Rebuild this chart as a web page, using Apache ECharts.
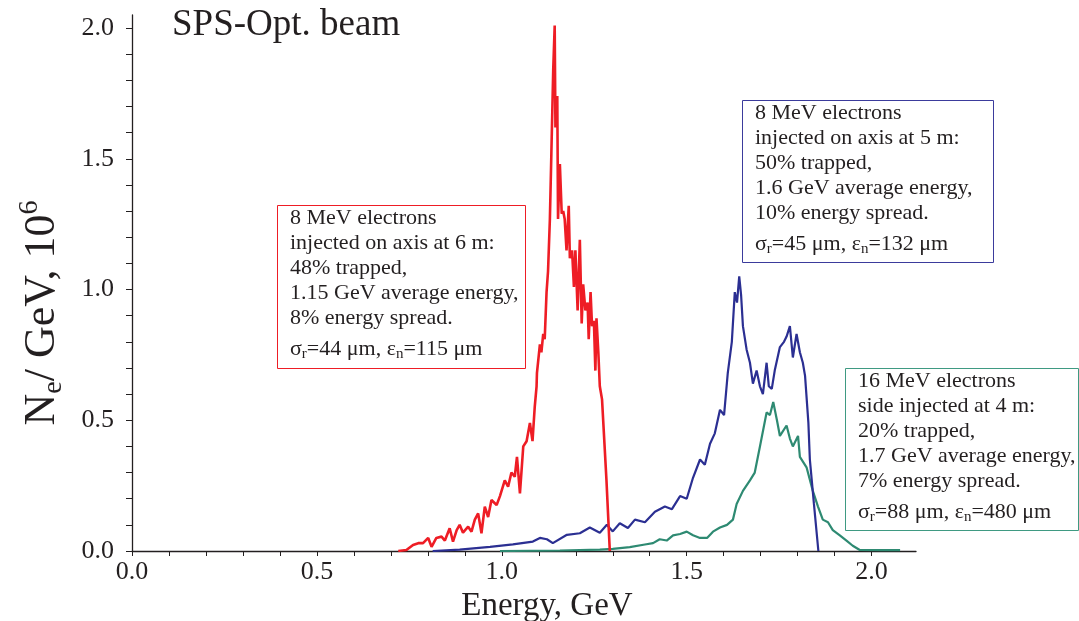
<!DOCTYPE html>
<html>
<head>
<meta charset="utf-8">
<script src="https://cdn.jsdelivr.net/npm/echarts@6/dist/echarts.min.js"></script>
<style>html,body{margin:0;padding:0;background:#fff}#c{width:1079px;height:621px}</style>
</head>
<body>
<div id="c"></div>
<script>
// ---- data (energy in GeV, Ne/GeV in 10^6) ----
const redE = [0.720,0.742,0.760,0.774,0.787,0.801,0.810,0.823,0.837,0.846,0.859,0.868,0.878,0.886,0.895,0.909,0.918,0.927,0.936,0.945,0.954,0.963,0.972,0.986,0.995,1.008,1.017,1.026,1.035,1.041,1.049,1.058,1.067,1.076,1.083,1.089,1.094,1.095,1.103,1.107,1.112,1.116,1.121,1.125,1.130,1.134,1.139,1.143,1.145,1.150,1.152,1.157,1.162,1.166,1.170,1.175,1.181,1.184,1.190,1.195,1.199,1.205,1.211,1.216,1.220,1.226,1.232,1.235,1.240,1.244,1.249,1.253,1.256,1.261,1.265,1.271,1.283,1.292];
const redN = [0,0.004,0.023,0.03,0.03,0.05,0.016,0.05,0.055,0.04,0.087,0.036,0.08,0.10,0.07,0.093,0.074,0.12,0.144,0.068,0.17,0.13,0.195,0.176,0.21,0.27,0.246,0.30,0.284,0.36,0.22,0.40,0.42,0.49,0.42,0.55,0.63,0.68,0.79,0.76,0.83,0.81,0.99,1.07,1.27,1.52,1.84,2.01,1.62,1.74,1.27,1.48,1.29,1.30,1.27,1.15,1.32,1.12,1.15,1.01,1.15,0.92,1.19,0.87,1.02,0.92,0.95,0.81,0.99,0.86,0.88,0.69,0.89,0.76,0.63,0.58,0.27,0];

const blueE = [0.813,0.886,0.968,1.030,1.084,1.103,1.122,1.138,1.176,1.211,1.238,1.265,1.284,1.300,1.319,1.341,1.360,1.387,1.414,1.441,1.460,1.482,1.500,1.517,1.536,1.549,1.563,1.576,1.590,1.601,1.611,1.622,1.630,1.636,1.642,1.647,1.652,1.662,1.671,1.679,1.689,1.698,1.706,1.716,1.722,1.730,1.738,1.752,1.763,1.770,1.779,1.787,1.797,1.806,1.814,1.820,1.829,1.833,1.844,1.856];
const blueN = [0,0.005,0.016,0.025,0.036,0.05,0.045,0.03,0.062,0.068,0.09,0.07,0.10,0.075,0.106,0.088,0.12,0.11,0.15,0.17,0.16,0.21,0.2,0.28,0.35,0.33,0.41,0.45,0.54,0.52,0.68,0.80,0.99,0.95,1.05,0.98,0.86,0.77,0.72,0.64,0.69,0.63,0.60,0.72,0.63,0.62,0.69,0.78,0.80,0.82,0.86,0.74,0.83,0.76,0.72,0.67,0.49,0.35,0.18,0];

const greenE = [0.995,1.157,1.265,1.300,1.346,1.387,1.409,1.427,1.446,1.463,1.482,1.500,1.517,1.536,1.555,1.571,1.590,1.609,1.625,1.635,1.652,1.671,1.684,1.698,1.716,1.725,1.734,1.744,1.752,1.770,1.779,1.787,1.801,1.806,1.824,1.841,1.855,1.868,1.882,1.895,1.914,1.932,1.949,1.968,2.022,2.077];
const greenN = [0,0.002,0.005,0.008,0.015,0.025,0.03,0.045,0.04,0.06,0.065,0.074,0.06,0.05,0.05,0.074,0.09,0.10,0.12,0.18,0.23,0.27,0.30,0.40,0.53,0.52,0.57,0.50,0.44,0.48,0.43,0.40,0.44,0.36,0.32,0.23,0.17,0.12,0.11,0.08,0.06,0.04,0.02,0.004,0.003,0.003];

const xTickValues = [0,0.1,0.2,0.3,0.4,0.5,0.6,0.7,0.8,0.9,1.0,1.1,1.2,1.3,1.4,1.5,1.6,1.7,1.8,1.9,2.0];
const xLabelValues = [0,0.5,1.0,1.5,2.0];
const yTickValues = [0,0.1,0.2,0.3,0.4,0.5,0.6,0.7,0.8,0.9,1.0,1.1,1.2,1.3,1.4,1.5,1.6,1.7,1.8,1.9,2.0];
const yLabelValues = [0,0.5,1.0,1.5,2.0];

const titleText = 'SPS-Opt. beam';
const xName = 'Energy, GeV';
const yName = 'N{sub|e}/ GeV, 10{sup|6}';
const boxRed = '8 MeV electrons\ninjected on axis at 6 m:\n48% trapped,\n1.15 GeV average energy,\n8% energy spread.\n{gap| }\nσ{s|r}=44 μm, ε{s|n}=115 μm';
const boxBlue = '8 MeV electrons\ninjected on axis at 5 m:\n50% trapped,\n1.6 GeV average energy,\n10% energy spread.\n{gap| }\nσ{s|r}=45 μm, ε{s|n}=132 μm';
const boxGreen = '16 MeV electrons\nside injected at 4 m:\n20% trapped,\n1.7 GeV average energy,\n7% energy spread.\n{gap| }\nσ{s|r}=88 μm, ε{s|n}=480 μm';

const RED = '#ee1d25', BLUE = '#2b2f92', GREEN = '#2e8a72';
const FONT = '"Liberation Serif", "Times New Roman", serif';

function pairs(xs, ys) { return xs.map((x, i) => [x, ys[i]]); }

function box(left, top, w, h, color, text) {
  return {
    type: 'group', left: left, top: top,
    children: [
      { type: 'rect', shape: { x: 0.5, y: 0.5, width: w, height: h },
        style: { fill: '#fff', stroke: color, lineWidth: 1 } },
      { type: 'text', x: 13, y: 1,
        style: { text: text, fill: '#231f20', fontFamily: FONT, fontSize: 22, lineHeight: 25,
          rich: { s: { fontSize: 15, fontFamily: FONT, fill: '#231f20', verticalAlign: 'bottom', lineHeight: 17 },
                  gap: { fontSize: 2, lineHeight: 6 } } } }
    ]
  };
}

const chart = echarts.init(document.getElementById('c'), null, { renderer: 'canvas' });
chart.setOption({
  animation: false,
  backgroundColor: '#fff',
  grid: { left: 132, right: 163, top: 15, bottom: 70, outerBoundsMode: 'none', containLabel: false },
  xAxis: {
    type: 'value', min: 0, max: 2.12,
    name: xName, nameLocation: 'middle', nameGap: 30,
    nameTextStyle: { fontFamily: FONT, fontSize: 33, color: '#231f20', padding: [0, 0, 0, 46] },
    axisLine: { show: true, onZero: false, lineStyle: { color: '#231f20', width: 1.3 } },
    axisTick: { show: true, inside: false, length: 5, customValues: xTickValues, lineStyle: { color: '#231f20', width: 1 } },
    axisLabel: { customValues: xLabelValues, margin: 8, fontFamily: FONT, fontSize: 26, color: '#231f20',
      formatter: v => v.toFixed(1) },
    splitLine: { show: false }
  },
  yAxis: {
    type: 'value', min: 0, max: 2.05,
    name: yName, nameLocation: 'middle', nameGap: 64, nameRotate: 90,
    nameTextStyle: { fontFamily: FONT, fontSize: 44, color: '#231f20', lineHeight: 52, padding: [0, 60, 0, 0],
      rich: { sub: { fontFamily: FONT, fontSize: 28, color: '#231f20', verticalAlign: 'bottom', lineHeight: 28 },
              sup: { fontFamily: FONT, fontSize: 28, color: '#231f20', verticalAlign: 'top', lineHeight: 28 } } },
    axisLine: { show: true, lineStyle: { color: '#231f20', width: 1.3 } },
    axisTick: { show: true, inside: false, length: 6, customValues: yTickValues, lineStyle: { color: '#231f20', width: 1 } },
    axisLabel: { customValues: yLabelValues, margin: 18, fontFamily: FONT, fontSize: 26, color: '#231f20',
      formatter: v => v.toFixed(1) },
    splitLine: { show: false }
  },
  graphic: [
    { type: 'text', left: 172, top: 7, style: { text: titleText, fontFamily: FONT, fontSize: 37, fill: '#231f20' } },
    box(277, 205, 248, 163, RED, boxRed),
    box(742, 100, 251, 162, '#3b3b9c', boxBlue),
    box(845, 368, 233, 162, '#3f9a82', boxGreen)
  ],
  series: [
    { type: 'line', data: pairs(greenE, greenN), showSymbol: false, lineStyle: { color: GREEN, width: 2.2 }, z: 2 },
    { type: 'line', data: pairs(blueE, blueN), showSymbol: false, lineStyle: { color: BLUE, width: 2.2 }, z: 3 },
    { type: 'line', data: pairs(redE, redN), showSymbol: false, lineStyle: { color: RED, width: 2.6 }, z: 4 }
  ]
});
</script>
</body>
</html>
